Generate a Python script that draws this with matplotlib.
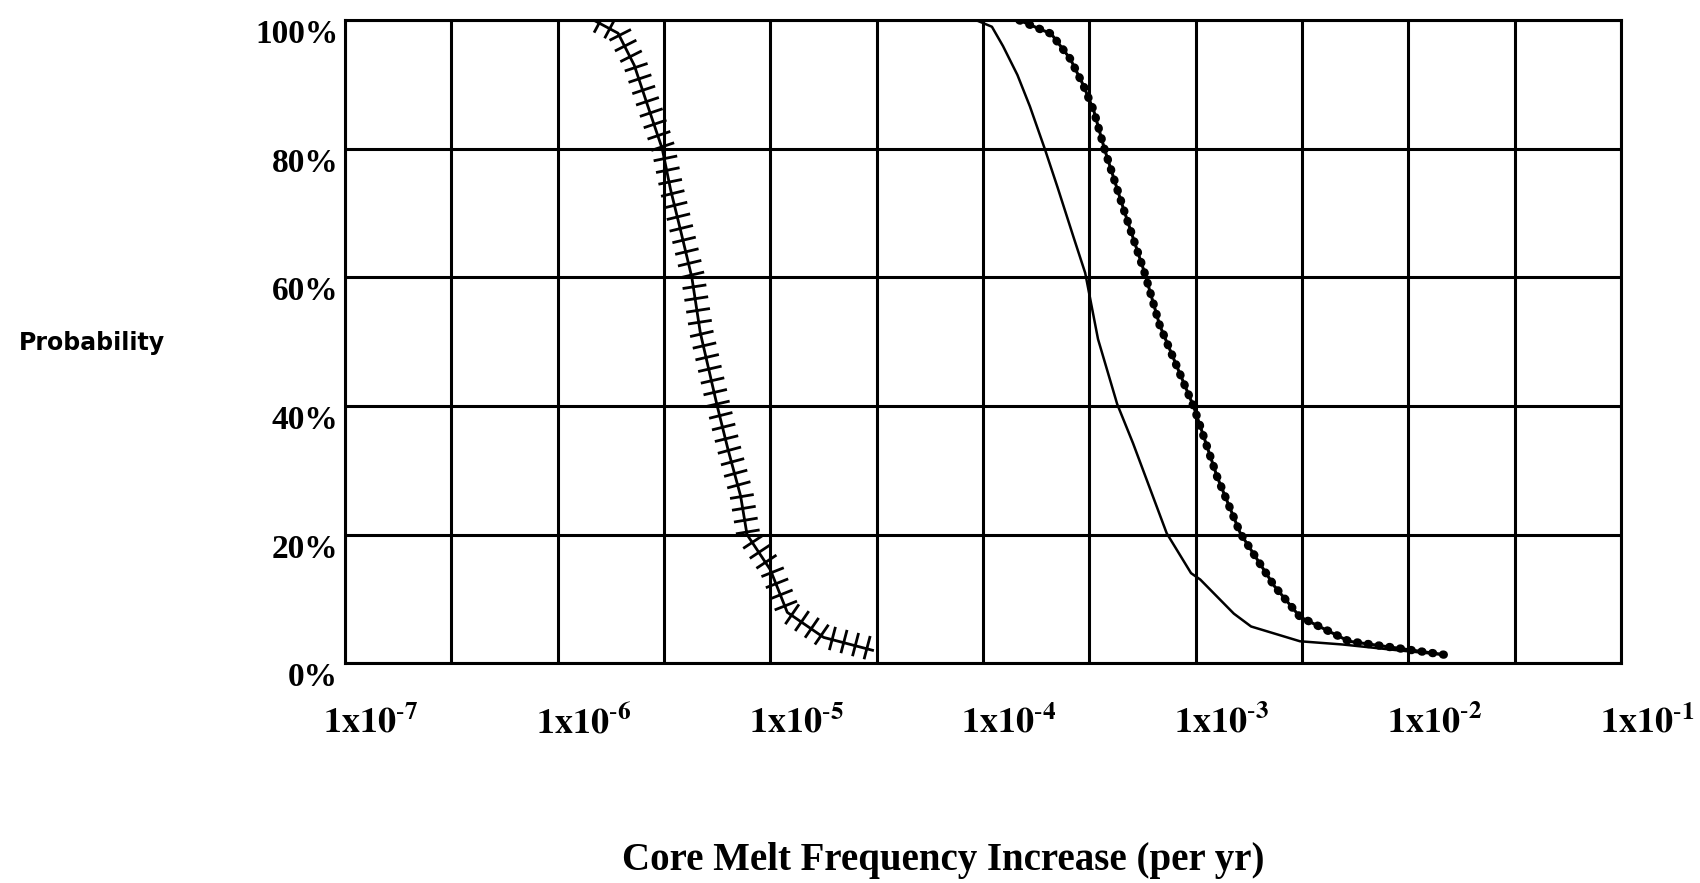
import matplotlib.pyplot as plt
import matplotlib.patheffects as pe
from matplotlib.ticker import NullFormatter
from matplotlib.transforms import ScaledTranslation

# curve with hatch ticks (left)
freq_a = [1.48e-6, 1.92e-6, 2.29e-6, 2.63e-6, 3.1e-6, 3.39e-6, 3.80e-6, 4.27e-6,
          4.68e-6, 5.62e-6, 6.31e-6, 7.24e-6, 7.76e-6, 1.0e-5, 1.20e-5, 1.78e-5, 3.02e-5]
prob_a = [100, 98, 93, 87, 80, 73.7, 67, 60, 51.4, 40, 33.3, 26, 20, 14.5, 7.9, 4, 2]

# thin solid curve (middle)
freq_b = [9.3e-5, 1.1e-4, 1.24e-4, 1.45e-4, 1.66e-4, 1.95e-4, 2.24e-4, 2.66e-4, 3.02e-4,
          3.47e-4, 4.27e-4, 5.07e-4, 7.3e-4, 9.5e-4, 1.05e-3, 1.51e-3, 1.82e-3,
          3.09e-3, 4.9e-3, 8.9e-3, 1.48e-2]
prob_b = [100, 99, 96, 91.5, 86.6, 80, 74, 66.3, 60.7, 50.4, 40.3, 34.2, 20.2, 14, 13,
          7.7, 5.7, 3.4, 2.9, 2, 1.3]

# beaded curve (right)
freq_c = [1.48e-4, 2.09e-4, 2.57e-4, 2.95e-4, 3.31e-4, 3.72e-4, 4.57e-4, 5.75e-4,
          6.76e-4, 9.8e-4, 1.26e-3, 1.62e-3, 2.34e-3, 3.09e-3, 5.25e-3, 1.48e-2]
prob_c = [100, 97.9, 94, 90, 86, 80, 70.7, 60.7, 52.6, 39.8, 29, 20.2, 12, 7.2, 3.4, 1.3]

decades = [1e-7, 1e-6, 1e-5, 1e-4, 1e-3, 1e-2, 1e-1]
half_decades = [3.162e-7, 3.162e-6, 3.162e-5, 3.162e-4, 3.162e-3, 3.162e-2]
x_labels = [r'$\mathbf{1x10^{\text{-}7}}$', r'$\mathbf{1x10^{\text{-}6}}$',
            r'$\mathbf{1x10^{\text{-}5}}$', r'$\mathbf{1x10^{\text{-}4}}$',
            r'$\mathbf{1x10^{\text{-}3}}$', r'$\mathbf{1x10^{\text{-}2}}$',
            r'$\mathbf{1x10^{\text{-}1}}$']
y_ticks = [0, 20, 40, 60, 80, 100]
y_labels = ['0%', '20%', '40%', '60%', '80%', '100%']

plt.rcParams['mathtext.fontset'] = 'stix'

fig = plt.figure(figsize=(17, 8.83), dpi=100)
ax = fig.add_axes([0.203, 0.249, 0.7506, 0.728])
ax.set_xscale('log')
ax.set_xlim(1e-7, 1e-1)
ax.set_ylim(0, 100)

ax.plot(freq_a, prob_a, color='black', lw=2,
        path_effects=[pe.TickedStroke(angle=90, spacing=8.5, length=1.0, linewidth=2),
                      pe.TickedStroke(angle=-90, spacing=8.5, length=0.8, linewidth=2),
                      pe.Normal()])
ax.plot(freq_b, prob_b, color='black', lw=1.8)
ax.plot(freq_c, prob_c, color='black', lw=2.2)
ax.plot(freq_c, prob_c, color='black', lw=6, linestyle=(0, (0.1, 1.2)),
        dash_capstyle='round')

ax.set_xticks(decades)
ax.set_xticks(half_decades, minor=True)
ax.xaxis.set_minor_formatter(NullFormatter())
ax.set_xticklabels(x_labels, fontsize=26)
ax.set_yticks(y_ticks)
ax.set_yticklabels(y_labels, fontsize=24, family='Liberation Serif', weight='bold')
ax.tick_params(which='both', length=0)
ax.tick_params(axis='x', pad=30)
ax.tick_params(axis='y', pad=5)
ax.grid(True, which='both', color='black', lw=2.2)
for s in ax.spines.values():
    s.set_linewidth(2.2)

for lab in ax.get_xticklabels():
    lab.set_transform(lab.get_transform() + ScaledTranslation(0.26, 0, fig.dpi_scale_trans))
for lab in ax.get_yticklabels():
    lab.set_transform(lab.get_transform() + ScaledTranslation(0, -0.11, fig.dpi_scale_trans))

fig.text(0.054, 0.611, 'Probability', fontsize=17, weight='bold', ha='center', va='center')
fig.text(0.555, 0.026, 'Core Melt Frequency Increase (per yr)', fontsize=28,
         family='Liberation Serif', weight='bold', ha='center', va='center')

plt.savefig('out.png', dpi=100)
